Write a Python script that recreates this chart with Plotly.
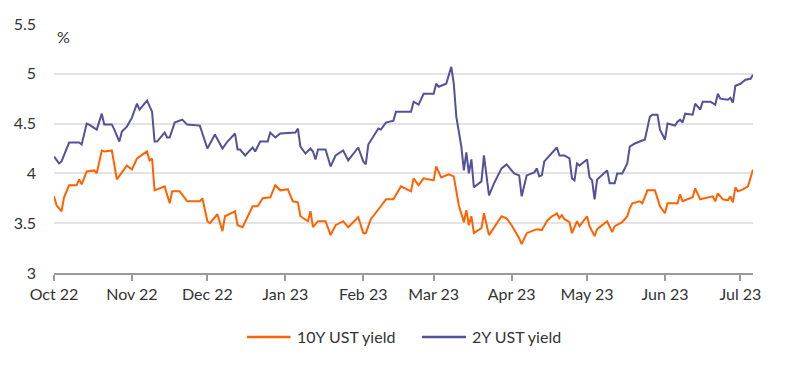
import plotly.graph_objects as go

# ---- data ----
dates_2y = [
    "2022-10-01", "2022-10-03", "2022-10-04", "2022-10-07", "2022-10-09", "2022-10-11", "2022-10-12",
    "2022-10-14", "2022-10-15", "2022-10-18", "2022-10-20", "2022-10-21", "2022-10-24", "2022-10-25",
    "2022-10-27", "2022-10-28", "2022-10-30", "2022-11-01", "2022-11-03", "2022-11-04", "2022-11-07",
    "2022-11-09", "2022-11-10", "2022-11-11", "2022-11-14", "2022-11-15", "2022-11-16", "2022-11-18",
    "2022-11-21", "2022-11-23", "2022-11-28", "2022-12-01", "2022-12-04", "2022-12-07", "2022-12-09",
    "2022-12-12", "2022-12-13", "2022-12-14", "2022-12-16", "2022-12-19", "2022-12-20", "2022-12-22",
    "2022-12-25", "2022-12-26", "2022-12-28", "2022-12-30", "2023-01-05", "2023-01-06", "2023-01-07",
    "2023-01-09", "2023-01-11", "2023-01-12", "2023-01-13", "2023-01-14", "2023-01-17", "2023-01-19",
    "2023-01-21", "2023-01-24", "2023-01-26", "2023-01-30", "2023-02-01", "2023-02-02", "2023-02-03",
    "2023-02-07", "2023-02-08", "2023-02-10", "2023-02-13", "2023-02-14", "2023-02-17", "2023-02-20",
    "2023-02-21", "2023-02-23", "2023-02-25", "2023-03-01", "2023-03-02", "2023-03-03", "2023-03-06",
    "2023-03-08", "2023-03-09", "2023-03-10", "2023-03-12", "2023-03-13", "2023-03-14", "2023-03-15",
    "2023-03-16", "2023-03-17", "2023-03-20", "2023-03-21", "2023-03-23", "2023-03-25", "2023-03-28",
    "2023-03-30", "2023-04-02", "2023-04-04", "2023-04-05", "2023-04-07", "2023-04-10", "2023-04-11",
    "2023-04-12", "2023-04-13", "2023-04-14", "2023-04-17", "2023-04-19", "2023-04-20", "2023-04-22",
    "2023-04-24", "2023-04-25", "2023-04-26", "2023-04-27", "2023-04-28", "2023-05-01", "2023-05-02",
    "2023-05-03", "2023-05-04", "2023-05-05", "2023-05-09", "2023-05-10", "2023-05-12", "2023-05-13",
    "2023-05-15", "2023-05-17", "2023-05-18", "2023-05-20", "2023-05-24", "2023-05-26", "2023-05-27",
    "2023-05-29", "2023-05-30", "2023-06-01", "2023-06-02", "2023-06-05", "2023-06-06", "2023-06-07",
    "2023-06-08", "2023-06-09", "2023-06-12", "2023-06-13", "2023-06-15", "2023-06-16", "2023-06-19",
    "2023-06-21", "2023-06-22", "2023-06-23", "2023-06-26", "2023-06-27", "2023-06-28", "2023-06-29",
    "2023-07-01", "2023-07-03", "2023-07-05", "2023-07-06",
]
yield_2y = [
    4.17, 4.10, 4.12, 4.31, 4.31, 4.31, 4.29,
    4.50, 4.49, 4.44, 4.60, 4.49, 4.49, 4.44,
    4.32, 4.42, 4.47, 4.56, 4.70, 4.64, 4.73,
    4.62, 4.32, 4.32, 4.41, 4.36, 4.36, 4.51,
    4.54, 4.49, 4.48, 4.25, 4.39, 4.25, 4.32,
    4.40, 4.24, 4.24, 4.18, 4.26, 4.22, 4.32,
    4.32, 4.41, 4.36, 4.40, 4.41, 4.45, 4.27,
    4.20, 4.25, 4.22, 4.14, 4.24, 4.24, 4.07,
    4.18, 4.23, 4.13, 4.26, 4.12, 4.09, 4.29,
    4.45, 4.44, 4.51, 4.53, 4.62, 4.62, 4.62,
    4.72, 4.69, 4.80, 4.80, 4.90, 4.87, 4.90,
    5.07, 4.90, 4.57, 4.27, 4.03, 4.21, 4.00,
    4.14, 3.86, 3.92, 4.18, 3.78, 3.90, 4.05,
    4.09, 4.00, 3.98, 3.77, 3.98, 4.01, 4.05,
    3.97, 3.98, 4.12, 4.20, 4.26, 4.18, 4.18,
    4.15, 3.95, 3.93, 4.10, 4.08, 4.14, 3.96,
    3.93, 3.74, 3.94, 4.03, 3.90, 3.90, 4.00,
    4.00, 4.10, 4.27, 4.30, 4.34, 4.57, 4.59,
    4.59, 4.44, 4.34, 4.50, 4.48, 4.52, 4.54,
    4.51, 4.60, 4.59, 4.70, 4.64, 4.72, 4.72,
    4.69, 4.80, 4.75, 4.74, 4.76, 4.71, 4.88,
    4.90, 4.94, 4.95, 4.99,
]

dates_10y = [
    "2022-10-01", "2022-10-02", "2022-10-04", "2022-10-05", "2022-10-07", "2022-10-10", "2022-10-11",
    "2022-10-12", "2022-10-14", "2022-10-17", "2022-10-18", "2022-10-20", "2022-10-21", "2022-10-24",
    "2022-10-26", "2022-10-28", "2022-10-30", "2022-11-01", "2022-11-03", "2022-11-07", "2022-11-08",
    "2022-11-09", "2022-11-10", "2022-11-14", "2022-11-16", "2022-11-17", "2022-11-20", "2022-11-23",
    "2022-11-28", "2022-11-29", "2022-12-01", "2022-12-02", "2022-12-05", "2022-12-07", "2022-12-08",
    "2022-12-12", "2022-12-13", "2022-12-15", "2022-12-19", "2022-12-21", "2022-12-23", "2022-12-26",
    "2022-12-28", "2022-12-30", "2023-01-02", "2023-01-04", "2023-01-06", "2023-01-07", "2023-01-10",
    "2023-01-11", "2023-01-12", "2023-01-14", "2023-01-17", "2023-01-19", "2023-01-21", "2023-01-24",
    "2023-01-26", "2023-01-30", "2023-02-01", "2023-02-02", "2023-02-04", "2023-02-08", "2023-02-10",
    "2023-02-13", "2023-02-16", "2023-02-20", "2023-02-21", "2023-02-23", "2023-02-25", "2023-03-01",
    "2023-03-02", "2023-03-04", "2023-03-07", "2023-03-09", "2023-03-11", "2023-03-13", "2023-03-14",
    "2023-03-15", "2023-03-16", "2023-03-17", "2023-03-20", "2023-03-21", "2023-03-23", "2023-03-28",
    "2023-03-30", "2023-04-01", "2023-04-02", "2023-04-04", "2023-04-05", "2023-04-07", "2023-04-09",
    "2023-04-11", "2023-04-13", "2023-04-15", "2023-04-17", "2023-04-18", "2023-04-19", "2023-04-20",
    "2023-04-21", "2023-04-22", "2023-04-24", "2023-04-25", "2023-04-27", "2023-04-28", "2023-05-01",
    "2023-05-02", "2023-05-04", "2023-05-05", "2023-05-09", "2023-05-11", "2023-05-12", "2023-05-15",
    "2023-05-17", "2023-05-18", "2023-05-19", "2023-05-22", "2023-05-23", "2023-05-25", "2023-05-28",
    "2023-05-30", "2023-06-01", "2023-06-02", "2023-06-06", "2023-06-07", "2023-06-08", "2023-06-12",
    "2023-06-13", "2023-06-15", "2023-06-20", "2023-06-21", "2023-06-22", "2023-06-24", "2023-06-26",
    "2023-06-27", "2023-06-28", "2023-06-29", "2023-06-30", "2023-07-02", "2023-07-04", "2023-07-06",
]
yield_10y = [
    3.77, 3.68, 3.62, 3.76, 3.88, 3.88, 3.94,
    3.89, 4.02, 4.03, 4.00, 4.23, 4.22, 4.23,
    3.94, 4.01, 4.08, 4.04, 4.15, 4.22, 4.13,
    4.15, 3.83, 3.87, 3.70, 3.82, 3.82, 3.72,
    3.72, 3.75, 3.52, 3.50, 3.59, 3.42, 3.57,
    3.62, 3.48, 3.46, 3.67, 3.67, 3.75, 3.76,
    3.88, 3.83, 3.84, 3.72, 3.71, 3.57, 3.52,
    3.62, 3.46, 3.52, 3.52, 3.38, 3.48, 3.52,
    3.46, 3.56, 3.40, 3.40, 3.54, 3.67, 3.74,
    3.74, 3.87, 3.82, 3.95, 3.88, 3.95, 3.93,
    4.07, 3.96, 3.99, 3.97, 3.68, 3.51, 3.63,
    3.48, 3.57, 3.40, 3.45, 3.60, 3.38, 3.57,
    3.55, 3.48, 3.44, 3.35, 3.29, 3.40, 3.42,
    3.44, 3.43, 3.52, 3.57, 3.58, 3.60, 3.55,
    3.58, 3.54, 3.51, 3.40, 3.52, 3.47, 3.57,
    3.47, 3.37, 3.44, 3.52, 3.41, 3.47, 3.51,
    3.57, 3.65, 3.70, 3.72, 3.70, 3.83, 3.83,
    3.67, 3.60, 3.70, 3.70, 3.79, 3.72, 3.76,
    3.85, 3.74, 3.77, 3.72, 3.80, 3.74, 3.73,
    3.77, 3.71, 3.86, 3.82, 3.84, 3.87, 4.04,
]

tick_dates = ["2022-10-01", "2022-11-01", "2022-12-01", "2023-01-01", "2023-02-01",
              "2023-03-01", "2023-04-01", "2023-05-01", "2023-06-01", "2023-07-01"]
tick_labels = ["Oct 22", "Nov 22", "Dec 22", "Jan 23", "Feb 23",
               "Mar 23", "Apr 23", "May 23", "Jun 23", "Jul 23"]
y_ticks = [3, 3.5, 4, 4.5, 5, 5.5]
y_tick_labels = ["3", "3.5", "4", "4.5", "5", "5.5"]
series_names = ["10Y UST yield", "2Y UST yield"]

ORANGE = "#FF6200"
INDIGO = "#525199"
FONT = "Lato"
TXT = "#333333"
FS = 16

fig = go.Figure()
fig.add_trace(go.Scatter(x=dates_10y, y=yield_10y, mode="lines", name=series_names[0],
                         line=dict(color=ORANGE, width=2), showlegend=False))
fig.add_trace(go.Scatter(x=dates_2y, y=yield_2y, mode="lines", name=series_names[1],
                         line=dict(color=INDIGO, width=2), showlegend=False))

# custom legend (line sample + label) below the plot
leg_y = -0.257
shapes = [
    dict(type="line", xref="paper", yref="paper", x0=0.2761, x1=0.3383, y0=leg_y, y1=leg_y,
         line=dict(color=ORANGE, width=2.5)),
    dict(type="line", xref="paper", yref="paper", x0=0.5265, x1=0.5894, y0=leg_y, y1=leg_y,
         line=dict(color=INDIGO, width=2.5)),
]
annotations = [
    dict(text=series_names[0], xref="paper", yref="paper", x=0.3445, y=leg_y,
         xanchor="left", yanchor="middle", showarrow=False,
         font=dict(family=FONT, size=FS, color=TXT)),
    dict(text=series_names[1], xref="paper", yref="paper", x=0.5950, y=leg_y,
         xanchor="left", yanchor="middle", showarrow=False,
         font=dict(family=FONT, size=FS, color=TXT)),
    dict(text="%", xref="paper", yref="paper", x=0.002, y=0.948,
         xanchor="left", yanchor="middle", showarrow=False,
         font=dict(family=FONT, size=FS, color=TXT)),
]

# page body has an 8px margin: shrink figure and margins to compensate
fig.update_layout(
    width=792, height=360,
    margin=dict(l=46, r=47, t=16, b=95, autoexpand=False),
    paper_bgcolor="white", plot_bgcolor="white",
    font=dict(family=FONT, size=FS, color=TXT),
    showlegend=False,
    shapes=shapes,
    annotations=annotations,
)
fig.update_xaxes(
    type="date", range=["2022-10-01", "2023-07-06"],
    tickvals=tick_dates, ticktext=tick_labels,
    showgrid=False, showline=True, linecolor="#9a9a9a", linewidth=1.5,
    ticks="outside", ticklen=6, tickcolor="#9a9a9a", tickwidth=1.5,
    tickfont=dict(family=FONT, size=FS, color=TXT), zeroline=False,
)
fig.update_yaxes(
    range=[3, 5.5], tickvals=y_ticks, ticktext=y_tick_labels,
    showgrid=True, gridcolor="#e3e3e3", gridwidth=1.5, zeroline=False,
    showline=False, ticks="", ticklabelstandoff=17,
    tickfont=dict(family=FONT, size=FS, color=TXT),
)

fig.write_html("out.html")
